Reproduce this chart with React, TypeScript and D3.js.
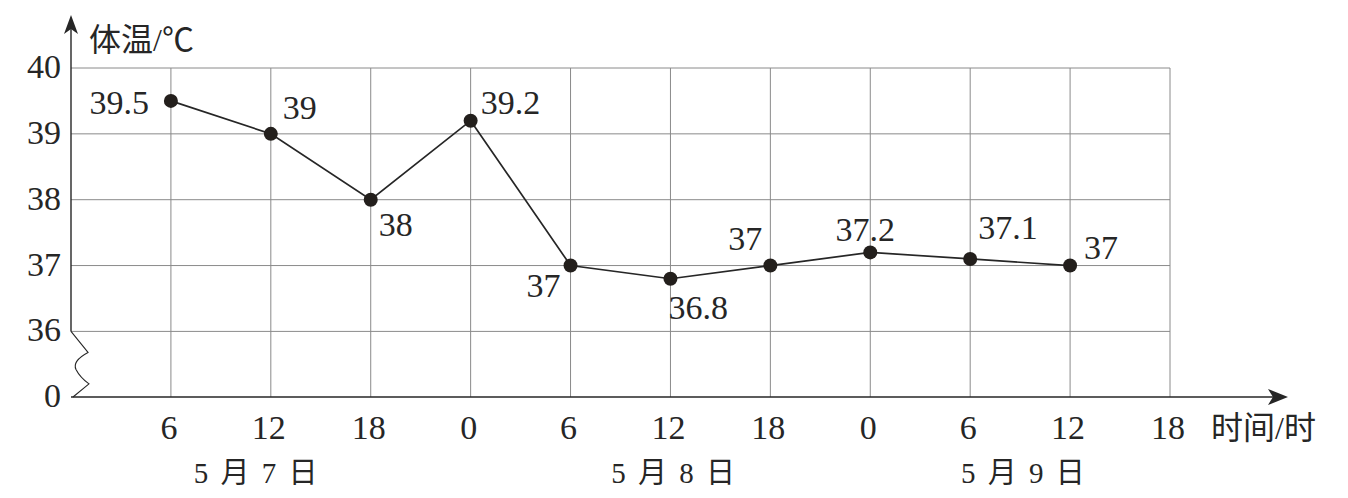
import * as d3 from 'd3';

// x slots: 0 is the y axis, 1..11 are the hour ticks
const hourTicks = ['6', '12', '18', '0', '6', '12', '18', '0', '6', '12', '18'];
const temps = [39.5, 39, 38, 39.2, 37, 36.8, 37, 37.2, 37.1, 37];
const tempTicks = [0, 36, 37, 38, 39, 40];
const days = ['5 月 7 日', '5 月 8 日', '5 月 9 日'];
const daySlots = [2, 6, 10];

const W = 1348;
const H = 498;
const INK = '#262626';
const FONT = '"Liberation Serif", "Noto Sans CJK SC", serif';

// label placement relative to each dot: [dx, dy, anchor]
const labelPos: [number, number, string][] = [
  [-22, 13, 'end'],
  [12, -15, 'start'],
  [8, 36, 'start'],
  [10, -7, 'start'],
  [-10, 31, 'end'],
  [-2, 40, 'start'],
  [-8, -16, 'end'],
  [-5, -11, 'middle'],
  [8, -20, 'start'],
  [14, -7, 'start'],
];
const dayShift = [-14, 4, -46];

export default function App() {
  const x = d3.scaleLinear().domain([0, 11]).range([71, 1170]);
  // broken axis: 0 sits one row below 36
  const y = d3.scaleLinear().domain([0, 36, 40]).range([397, 331.4, 68]);

  const pts = temps.map((t, i) => [x(i + 1), y(t)] as [number, number]);
  const line = d3.line()(pts) ?? '';

  const x0 = x(0);
  const y0 = y(0);
  const y36 = y(36);
  const gap = y0 - y36;
  // zigzag break between 0 and 36
  const zig = d3.path();
  zig.moveTo(x0, y36);
  zig.lineTo(x0 + 17, y36 + gap * 0.32);
  zig.quadraticCurveTo(x0 + 1, y36 + gap * 0.45, x0 + 5, y36 + gap * 0.58);
  zig.quadraticCurveTo(x0 + 9, y36 + gap * 0.7, x0 + 18, y36 + gap * 0.8);
  zig.lineTo(x0 + 2, y0);

  const xEnd = 1288;
  const yTop = 15;

  return (
    <svg width={W} height={H} style={{ position: 'absolute', left: 0, top: 0, background: '#fff' }}>
      {/* grid */}
      <g stroke="#8a8a8a" strokeWidth={1}>
        {hourTicks.map((_, i) => (
          <line key={'v' + i} x1={x(i + 1)} x2={x(i + 1)} y1={y(0)} y2={y(40)} />
        ))}
        {tempTicks.filter(t => t > 0).map(t => (
          <line key={'h' + t} x1={x0} x2={x(11)} y1={y(t)} y2={y(t)} />
        ))}
      </g>

      {/* axes */}
      <g stroke={INK} strokeWidth={1.4} fill="none">
        <line x1={x0} x2={xEnd - 6} y1={y0} y2={y0} />
        <line x1={x0} x2={x0} y1={y36} y2={yTop + 6} />
        <path d={zig.toString()} strokeWidth={1.1} />
      </g>
      <path d={`M${xEnd},${y0} L${xEnd - 20},${y0 - 8} L${xEnd - 15},${y0} L${xEnd - 20},${y0 + 8} Z`} fill={INK} />
      <path d={`M${x0},${yTop} L${x0 - 7},${yTop + 19} L${x0},${yTop + 14} L${x0 + 7},${yTop + 19} Z`} fill={INK} />

      {/* y tick labels */}
      <g fontFamily={FONT} fontSize={34} fill={INK} textAnchor="end">
        {tempTicks.map(t => (
          <text key={t} x={61} y={y(t) + 10}>{t}</text>
        ))}
      </g>

      {/* x tick labels */}
      <g fontFamily={FONT} fontSize={34} fill={INK} textAnchor="middle">
        {hourTicks.map((h, i) => (
          <text key={i} x={x(i + 1) - 2} y={439}>{h}</text>
        ))}
      </g>

      {/* day labels */}
      <g fontFamily={FONT} fontSize={29} fill={INK} textAnchor="middle">
        {days.map((d, i) => (
          <text key={d} x={x(daySlots[i]) + dayShift[i]} y={483} style={{ whiteSpace: 'pre' }} letterSpacing={2.5}>{d}</text>
        ))}
      </g>

      {/* axis titles */}
      <text x={89} y={51} fontFamily={FONT} fontSize={32} fill={INK}>体温/℃</text>
      <text x={1211} y={439} fontFamily={FONT} fontSize={32} fill={INK}>时间/时</text>

      {/* series */}
      <path d={line} fill="none" stroke={INK} strokeWidth={1.7} />
      <g fill="#231f1c">
        {pts.map(([px, py], i) => (
          <circle key={i} cx={px} cy={py} r={7} />
        ))}
      </g>
      <g fontFamily={FONT} fontSize={34} fill={INK}>
        {pts.map(([px, py], i) => (
          <text key={i} x={px + labelPos[i][0]} y={py + labelPos[i][1]} textAnchor={labelPos[i][2]}>
            {temps[i]}
          </text>
        ))}
      </g>
    </svg>
  );
}
